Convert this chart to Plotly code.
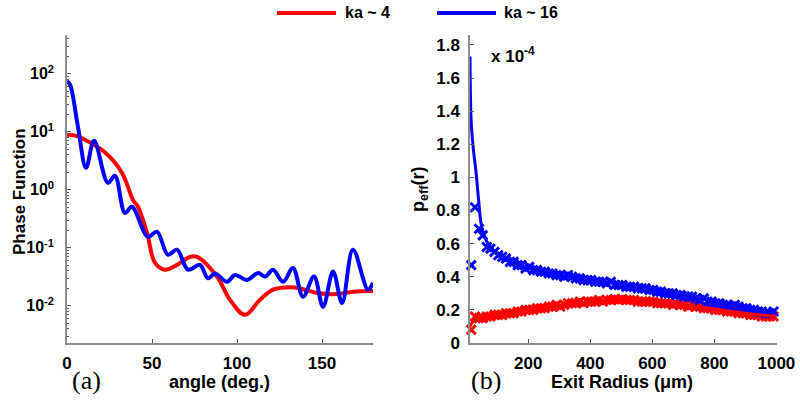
import plotly.graph_objects as go

# ---------------- data: panel (a) phase function ----------------
angle_ka4 = [0, 5, 10.6, 22.4, 32.4, 38.8, 41.8, 47.1, 51.8, 57.6, 64.7, 72.4, 76.5, 88.2,
             95.9, 104.7, 113.5, 121.2, 131.2, 138.2, 147.1, 158.8, 168.2, 180]
phase_ka4 = [8.9, 8.6, 7.3, 4.4, 1.96, 0.67, 0.51, 0.18, 0.055, 0.042, 0.051, 0.070, 0.070, 0.032,
             0.0127, 0.0070, 0.0127, 0.019, 0.021, 0.0196, 0.0167, 0.016, 0.0175, 0.018]

angle_ka16 = [0, 1.8, 6.5, 11.2, 15.9, 24.1, 28.2, 34.1, 38.2, 47.6, 52.9, 59.4, 64.7, 71.2,
              78.2, 82.9, 87.1, 94.1, 98.8, 105.9, 112.4, 116.5, 121.2, 127.1, 132.9, 138.8,
              145.3, 150.6, 156.5, 161.8, 168.2, 177.1, 180]
phase_ka16 = [75, 65, 12, 2.4, 7.0, 1.32, 1.75, 0.40, 0.51, 0.155, 0.19, 0.076, 0.093, 0.042,
              0.051, 0.030, 0.036, 0.026, 0.034, 0.028, 0.037, 0.032, 0.042, 0.026, 0.045, 0.0144,
              0.032, 0.0096, 0.039, 0.0112, 0.093, 0.019, 0.025]

# ---------------- data: panel (b) p_eff(r), units of 1e-4 ----------------
radius_pts = [16, 28, 41, 53, 66, 78, 91,
              103, 116, 128, 141, 153, 166, 178, 191,
              203, 216, 228, 241, 253, 266, 278, 291,
              303, 316, 328, 341, 353, 366, 378, 391,
              403, 416, 428, 441, 453, 466, 478, 491,
              503, 516, 528, 541, 553, 566, 578, 591,
              603, 616, 628, 641, 653, 666, 678, 691,
              703, 716, 728, 741, 753, 766, 778, 791,
              803, 816, 828, 841, 853, 866, 878, 891,
              903, 916, 928, 941, 953, 966, 978, 991]
peff_ka16_pts = [0.47, 0.82, 0.69, 0.65, 0.58, 0.57, 0.55,
                 0.53, 0.52, 0.51, 0.49, 0.49, 0.47, 0.47, 0.45,
                 0.46, 0.44, 0.44, 0.43, 0.43, 0.42, 0.42, 0.41,
                 0.41, 0.40, 0.41, 0.40, 0.39, 0.39, 0.38, 0.38,
                 0.38, 0.37, 0.37, 0.37, 0.36, 0.37, 0.35, 0.35,
                 0.35, 0.34, 0.34, 0.34, 0.33, 0.33, 0.33, 0.32,
                 0.32, 0.31, 0.31, 0.30, 0.30, 0.30, 0.29, 0.29,
                 0.28, 0.28, 0.28, 0.27, 0.26, 0.27, 0.25, 0.25,
                 0.24, 0.24, 0.23, 0.23, 0.22, 0.23, 0.22, 0.21,
                 0.21, 0.20, 0.20, 0.19, 0.19, 0.18, 0.18, 0.19]
peff_ka4_pts = [0.08, 0.16, 0.15, 0.15, 0.16, 0.16, 0.17,
                0.17, 0.17, 0.18, 0.18, 0.18, 0.19, 0.19, 0.20,
                0.20, 0.20, 0.21, 0.21, 0.21, 0.22, 0.22, 0.23,
                0.22, 0.23, 0.24, 0.24, 0.24, 0.25, 0.24, 0.25,
                0.25, 0.25, 0.26, 0.25, 0.26, 0.26, 0.265, 0.26,
                0.265, 0.26, 0.26, 0.26, 0.25, 0.25, 0.25, 0.25,
                0.25, 0.24, 0.24, 0.24, 0.24, 0.23, 0.24, 0.23,
                0.23, 0.22, 0.23, 0.22, 0.22, 0.21, 0.21, 0.21,
                0.20, 0.20, 0.20, 0.19, 0.19, 0.19, 0.18, 0.18,
                0.18, 0.17, 0.17, 0.17, 0.16, 0.16, 0.16, 0.16]

radius_fit_ka16 = [12, 16, 24, 31, 39, 50, 70, 115, 180, 290, 395, 467, 574, 684, 791, 899, 1000]
peff_fit_ka16 = [1.73, 1.33, 1.15, 1.04, 0.88, 0.70, 0.60, 0.52, 0.465, 0.415, 0.385, 0.365,
                 0.33, 0.29, 0.255, 0.22, 0.185]
radius_fit_ka4 = [12, 20, 30, 50, 100, 200, 300, 400, 500, 600, 700, 800, 900, 1000]
peff_fit_ka4 = [0.10, 0.125, 0.14, 0.15, 0.17, 0.20, 0.225, 0.245, 0.255, 0.25, 0.23, 0.205,
                0.18, 0.16]

legend_labels = ["ka ~ 4", "ka ~ 16"]
RED = "#ff0000"
BLUE = "#0000ff"
FONT = "Liberation Sans, Arial, sans-serif"

fig = go.Figure()
fig.add_trace(go.Scatter(x=angle_ka4, y=phase_ka4, mode="lines", line=dict(color=RED, width=4, shape="spline", smoothing=1.0),
                         xaxis="x", yaxis="y", showlegend=False))
fig.add_trace(go.Scatter(x=angle_ka16, y=phase_ka16, mode="lines", line=dict(color=BLUE, width=4, shape="spline", smoothing=1.0),
                         xaxis="x", yaxis="y", showlegend=False))

fig.add_trace(go.Scatter(x=radius_pts, y=peff_ka4_pts, mode="markers", cliponaxis=False,
                         marker=dict(symbol="x-thin", size=9, color=RED, line=dict(color=RED, width=3)),
                         xaxis="x2", yaxis="y2", showlegend=False))
fig.add_trace(go.Scatter(x=radius_pts, y=peff_ka16_pts, mode="markers", cliponaxis=False,
                         marker=dict(symbol="x-thin", size=9, color=BLUE, line=dict(color=BLUE, width=3)),
                         xaxis="x2", yaxis="y2", showlegend=False))
fig.add_trace(go.Scatter(x=radius_fit_ka4, y=peff_fit_ka4, mode="lines", line=dict(color=RED, width=3, shape="spline"),
                         xaxis="x2", yaxis="y2", showlegend=False))
fig.add_trace(go.Scatter(x=radius_fit_ka16, y=peff_fit_ka16, mode="lines", line=dict(color=BLUE, width=3, shape="spline"),
                         xaxis="x2", yaxis="y2", showlegend=False))

W, H = 800, 403
def px(x):
    return x / W
def py(y):
    return 1 - y / H

axis_common = dict(showline=True, linecolor="#8c8c8c", linewidth=1.5, showgrid=False, zeroline=False,
                   ticks="inside", ticklen=4, tickcolor="#555555", tickwidth=1, automargin=False,
                   tickfont=dict(family=FONT, size=17, color="black", weight="bold"))

minor_log = [m * 10 ** e for e in range(-3, 3) for m in range(2, 10)]

fig.update_layout(
    width=W, height=H, margin=dict(l=0, r=0, t=0, b=0, autoexpand=False),
    paper_bgcolor="white", plot_bgcolor="white",
    xaxis=dict(domain=[px(67), px(373)], range=[0, 180], tickvals=[0, 50, 100, 150], anchor="y",
               ticklabelstandoff=4, **axis_common),
    yaxis=dict(domain=[py(343), py(35)], type="log", range=[-2.64, 2.67], anchor="x",
               tickvals=[0.01, 0.1, 1, 10, 100],
               ticktext=["10<sup>-2</sup>", "10<sup>-1</sup>", "10<sup>0</sup>", "10<sup>1</sup>", "10<sup>2</sup>"],
               minor=dict(tickmode="array", tickvals=minor_log, ticks="inside", ticklen=2, tickcolor="#555555"),
               ticklabelstandoff=8, **{**axis_common, "tickfont": dict(family=FONT, size=16, color="black", weight="bold")}),
    xaxis2=dict(domain=[px(470), px(777)], range=[12, 1002], tickvals=[200, 400, 600, 800, 1000], anchor="y2",
                ticklabelstandoff=4, **axis_common),
    yaxis2=dict(domain=[py(343), py(35)], range=[0, 1.86], anchor="x2",
                tickvals=[0, 0.2, 0.4, 0.6, 0.8, 1, 1.2, 1.4, 1.6, 1.8],
                ticktext=["0", "0.2", "0.4", "0.6", "0.8", "1", "1.2", "1.4", "1.6", "1.8"],
                ticklabelstandoff=5, **axis_common),
)

# legend drawn manually
fig.add_shape(type="line", xref="paper", yref="paper", x0=px(277), x1=px(336), y0=py(13), y1=py(13),
              line=dict(color=RED, width=4))
fig.add_shape(type="line", xref="paper", yref="paper", x0=px(437), x1=px(496), y0=py(13), y1=py(13),
              line=dict(color=BLUE, width=4))

def ann(text, x, y, size=16, xanchor="center", angle=0, family=FONT, weight="bold"):
    fig.add_annotation(text=text, x=px(x), y=py(y), xref="paper", yref="paper", showarrow=False,
                       xanchor=xanchor, yanchor="middle", textangle=angle,
                       font=dict(family=family, size=size, color="black", weight=weight))

ann(legend_labels[0], 343, 13, size=16, xanchor="left")
ann(legend_labels[1], 502, 13, size=16, xanchor="left")
ann("Phase Function", 19, 192, size=17, angle=-90)
ann("angle (deg.)", 219, 382, size=18)
ann("Exit Radius (\u03bcm)", 622, 382, size=18)
ann("p<sub>eff</sub>(r)", 419, 190, size=18, angle=-90)
ann("x 10<sup>-4</sup>", 489, 55, size=17, xanchor="left")
ann("(a)", 86, 380, size=26, family="Liberation Serif, DejaVu Serif, serif", weight="normal")
ann("(b)", 486, 380, size=26, family="Liberation Serif, DejaVu Serif, serif", weight="normal")

fig.write_html("out.html", config={"displayModeBar": False})

# remove the default page margin so the 800x403 figure fills the window exactly
with open("out.html", "r", encoding="utf-8") as f:
    html = f.read()
html = html.replace("<head>", "<head><style>html,body{margin:0;padding:0;overflow:hidden;}</style>", 1)
with open("out.html", "w", encoding="utf-8") as f:
    f.write(html)
